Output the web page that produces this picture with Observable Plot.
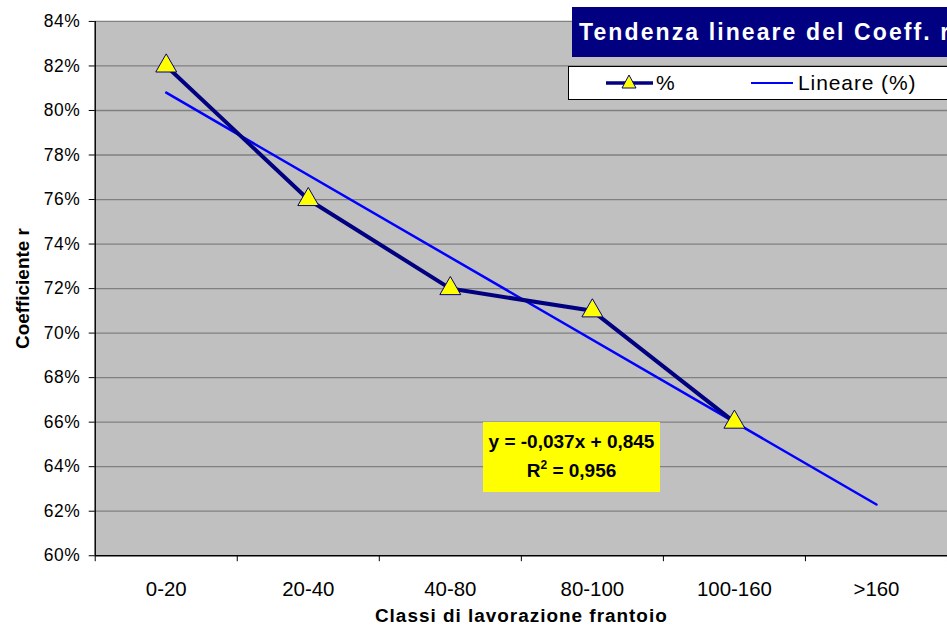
<!DOCTYPE html>
<html><head><meta charset="utf-8">
<script src="https://cdn.jsdelivr.net/npm/d3@7"></script>
<script src="https://cdn.jsdelivr.net/npm/@observablehq/plot@0.6"></script>
<style>
body{margin:0;background:#fff;overflow:hidden;}
#wrap{position:relative;width:947px;height:630px;overflow:hidden;font-family:"Liberation Sans",Arial,sans-serif;background:#fff;}
#wrap svg.plot{position:absolute;left:0;top:0;}
g[aria-label="x-axis label"] text{font-weight:bold;font-size:19px;letter-spacing:1px;}
g[aria-label="y-axis label"] text{font-weight:bold;font-size:19px;}
g[aria-label="y-axis tick label"] text{font-size:17.5px;letter-spacing:0.5px;}
g[aria-label="x-axis tick label"] text{font-size:20.5px;}
#title{position:absolute;left:572px;top:7px;width:420px;height:50px;background:#000080;color:#fff;font-weight:bold;font-size:23px;letter-spacing:2.1px;line-height:50px;padding-left:7px;box-sizing:border-box;white-space:nowrap;}
#legend{position:absolute;left:568px;top:66px;width:420px;height:34px;background:#fff;border:1px solid #000;box-sizing:border-box;font-size:21px;letter-spacing:0.9px;white-space:nowrap;}
#legend svg{position:absolute;left:0;top:0;}
#legend .t{position:absolute;top:4px;}
#eq{position:absolute;left:483px;top:422px;width:177px;height:70px;background:#ffff00;font-weight:bold;font-size:19px;text-align:center;line-height:29px;padding-top:5px;box-sizing:border-box;white-space:nowrap;}
#eq sup{font-size:12px;line-height:0;vertical-align:8px;}
</style></head><body><div id="wrap"></div>
<script>
const categories = ["0-20","20-40","40-80","80-100","100-160",">160"];
const percentCategories = ["0-20","20-40","40-80","80-100","100-160"];
const percentValues = [82,76,72,71,66];
const trendCategories = ["0-20",">160"];
const trendValues = [80.8,62.3];
const yTicks = [60,62,64,66,68,70,72,74,76,78,80,82,84];
const titleText = "Tendenza lineare del Coeff. r";
const legendLabels = ["%","Lineare (%)"];
const equationText = "y = -0,037x + 0,845";
const r2Text = "0,956";
const xLabel = "Classi di lavorazione frantoio";
const yLabel = "Coefficiente r";

const pos = c => categories.indexOf(c) + 0.5;
const percentData = percentCategories.map((c,i)=>({x:pos(c), y:percentValues[i]}));
const trendData = trendCategories.map((c,i)=>({x:pos(c), y:trendValues[i]}));

const chart = Plot.plot({
  width: 950, height: 630,
  marginLeft: 95, marginRight: 0, marginTop: 21, marginBottom: 73,
  style: {fontFamily:'"Liberation Sans", Arial, sans-serif', fontSize:"16px", background:"transparent", color:"#000"},
  x: {type:"linear", domain:[0, categories.length]},
  y: {domain:[60,84]},
  marks: [
    Plot.frame({fill:"#c0c0c0", stroke:null}),
    Plot.gridY(yTicks.slice(1), {stroke:"#808080", strokeOpacity:1, strokeWidth:1.3}),
    Plot.line(trendData, {x:"x", y:"y", stroke:"#0000ff", strokeWidth:2.5}),
    Plot.line(percentData, {x:"x", y:"y", stroke:"#000080", strokeWidth:4}),
    Plot.dot(percentData, {x:"x", y:"y", symbol:"triangle", r:7.8, fill:"#ffff00", stroke:"#000080", strokeWidth:1}),
    Plot.axisY({ticks:yTicks, tickFormat:d=>d+"%", tickSize:6, tickPadding:9, label:yLabel, labelAnchor:"center", labelOffset:80, labelArrow:"none"}),
    Plot.ruleX([0], {stroke:"#000", strokeWidth:1.5}),
    Plot.ruleY([60], {stroke:"#000", strokeWidth:1.5}),
    Plot.axisX({ticks:d3.range(0, categories.length+1), tickSize:6, tickFormat:()=>"", label:null}),
    Plot.axisX({ticks:categories.map(pos), tickSize:0, tickPadding:26, tickFormat:d=>categories[Math.floor(d)], label:xLabel, labelAnchor:"center", labelOffset:66, labelArrow:"none"})
  ]
});
const wrap = document.getElementById("wrap");
wrap.appendChild(chart);

const title = document.createElement("div");
title.id = "title"; title.textContent = titleText;
wrap.appendChild(title);

const legend = document.createElement("div");
legend.id = "legend";
legend.innerHTML = `<svg width="420" height="34">
<line x1="37" x2="84" y1="16" y2="16" stroke="#000080" stroke-width="3.5"/>
<path d="M60,8 L67,21 L53,21 Z" fill="#ffff00" stroke="#000080" stroke-width="1"/>
<line x1="182" x2="224" y1="16" y2="16" stroke="#0000ff" stroke-width="2"/>
</svg><span class="t" style="left:87px">${legendLabels[0]}</span><span class="t" style="left:229px">${legendLabels[1]}</span>`;
wrap.appendChild(legend);

const eq = document.createElement("div");
eq.id = "eq";
eq.innerHTML = `${equationText}<br>R<sup>2</sup> = ${r2Text}`;
wrap.appendChild(eq);
</script></body></html>
